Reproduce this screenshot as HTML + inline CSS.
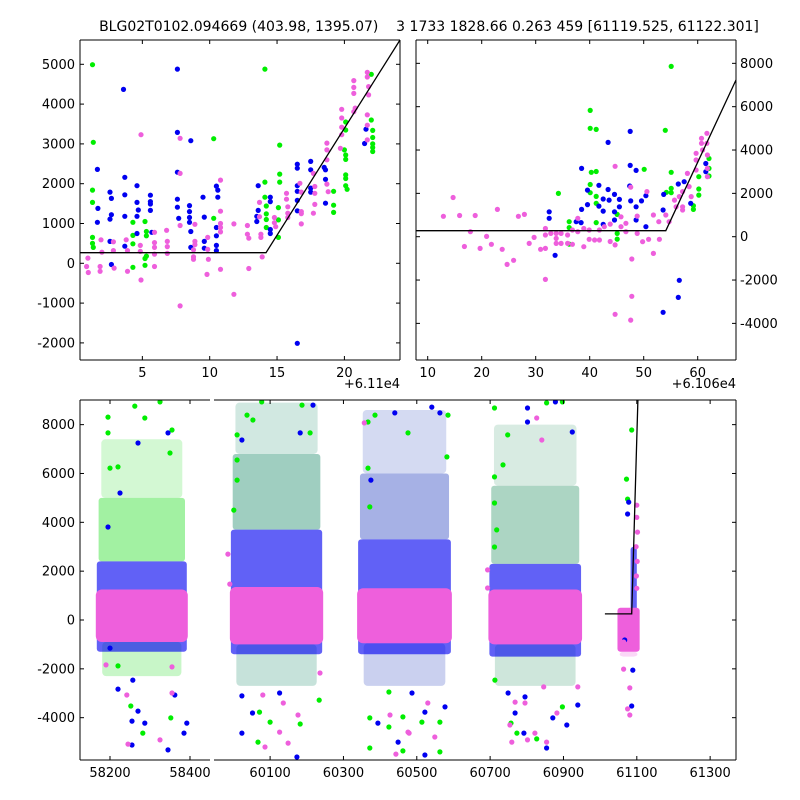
<!DOCTYPE html>
<html><head><meta charset="utf-8">
<style>
html,body{margin:0;padding:0;background:#fff;}
svg{display:block;font-family:"DejaVu Sans","Liberation Sans",sans-serif;}
text{fill:#000;}
</style></head>
<body>
<svg id="chart" width="800" height="800" viewBox="0 0 800 800" xmlns="http://www.w3.org/2000/svg">
<defs>
<clipPath id="cTL"><rect x="80" y="40" width="320" height="320"/></clipPath>
<clipPath id="cTR"><rect x="416" y="40" width="320" height="320"/></clipPath>
<clipPath id="cBL"><rect x="80" y="400" width="130" height="360"/></clipPath>
<clipPath id="cBR"><rect x="214" y="400" width="522" height="360"/></clipPath>
</defs>
<text x="429" y="31" text-anchor="middle" font-size="14" style="white-space:pre">BLG02T0102.094669 (403.98, 1395.07)    3 1733 1828.66 0.263 459 [61119.525, 61122.301]</text>
<text x="400" y="388" text-anchor="end" font-size="13">+6.11e4</text>
<text x="736" y="388" text-anchor="end" font-size="13">+6.106e4</text>
</svg>
<script>
const NS='http://www.w3.org/2000/svg';
const svg=document.getElementById('chart');
// ---------- top-left data ----------
const tlGreenX=[1.3,1.36,1.3,1.3,1.3,1.3,1.36,14.1,10.3,15.2,15.2,15.2,14.1,14.1,14.2,14.2,14.2,14.2,15.1,15.1,15.1,4.3,5.2,4.3,4.3,5.3,5.3,5.3,5.2,5.2,4.3,10.3,20.1,20.1,20.0,20.1,20.1,20.1,20.1,20.1,20.2,19.2,19.2,19.2,22.0,22.0,22.1,22.1,22.1,22.1,22.1];
const tlGreenY=[4990,3040,1840,1530,650,500,400,4880,3130,2970,2240,2040,2040,1660,1440,1240,1100,900,1400,1090,650,1030,1050,700,490,800,690,180,120,-50,-100,1130,3550,3350,2850,2720,2610,2220,2130,1950,1860,1810,1460,1280,4750,3600,3340,3160,3000,2910,2810];
const tlBlueX=[7.6,3.6,7.6,8.6,7.6,1.66,1.7,1.66,2.6,2.7,2.7,2.6,2.6,2.7,3.7,3.7,3.7,3.7,4.6,4.6,4.7,4.6,4.6,5.6,5.6,5.6,5.6,5.7,7.6,7.6,7.7,8.5,8.5,8.5,8.5,8.6,8.6,9.5,9.6,9.6,9.6,10.5,10.6,10.6,10.5,10.5,10.5,10.5,13.6,13.6,13.5,13.5,14.5,14.5,14.5,14.5,16.5,16.5,16.5,16.5,16.5,16.5,17.5,17.5,17.5,17.5,18.5,18.6,18.6,18.6,21.6,21.5,16.5];
const tlBlueY=[4880,4370,3290,3080,2290,2360,1380,1030,1790,1630,1220,1110,550,-30,2160,1720,1180,430,1950,1530,1340,1180,750,1710,1550,1490,1330,780,1610,1410,1130,1450,1300,1150,1030,800,400,1660,1160,550,380,1940,1840,1660,900,690,450,320,1950,1330,1180,1050,1660,1550,850,750,2490,2390,1950,1810,1580,1320,2560,2350,1890,1790,2410,2350,2110,1510,3370,3010,-2010];
const tlPinkX=[0.96,0.86,0.99,1.86,1.86,1.93,2.0,2.85,2.85,2.9,3.8,3.9,3.9,4.9,4.9,4.85,4.85,5.9,5.9,5.9,5.9,5.9,6.8,6.85,6.85,6.85,7.8,7.8,7.8,7.8,8.9,8.9,8.9,8.8,8.8,8.8,9.85,9.85,9.9,9.8,10.8,10.8,10.8,10.8,10.8,10.8,11.8,11.8,12.8,12.8,12.9,12.9,13.7,13.7,13.8,13.8,13.9,14.8,14.8,14.9,15.7,15.7,15.8,15.8,15.8,16.7,16.8,16.8,16.8,16.8,17.7,17.8,17.8,17.8,17.7,18.7,18.7,18.7,18.7,18.8,19.8,19.8,19.8,19.8,19.7,20.7,20.7,20.7,20.8,20.7,21.7,21.7,21.8,21.8,21.7,21.7,21.7];
const tlPinkY=[130,-80,-230,-80,-200,590,280,540,320,-120,590,320,-200,3230,-420,450,300,780,520,400,230,-80,830,550,420,250,3140,2260,950,-1070,980,550,470,340,160,100,650,350,100,-280,2090,1310,1000,900,790,-150,990,-780,950,730,630,-130,1530,1170,730,650,160,1150,1020,920,1760,1610,1420,1260,1150,2010,1790,1300,1250,990,2260,1930,1760,1480,1260,3020,2850,2600,1990,1800,3870,3650,3420,3230,2890,4590,4420,4270,3900,3810,4800,4680,4440,4230,3730,3470,3100];
const tlLineX=[0.37,14.18,24.13];
const tlLineY=[266,266,5610];
const tlXTicks=[5,10,15,20];
const tlYTicks=[-2000,-1000,0,1000,2000,3000,4000,5000];
// ---------- top-right data ----------
const trGreenX=[55.1,40.1,40.1,41.2,54.0,40.3,41.2,50.1,55.1,34.2,40.1,40.1,41.2,41.2,36.2,36.2,36.2,41.2,45.1,45.1,45.1,54.2,55.1,55.1,60.2,60.2,60.2,62.1,62.1,62.1,59.2,59.2];
const trGreenY=[7860,5830,5000,4950,4910,2970,3010,3110,2970,2000,2410,2030,1860,1540,690,420,-340,650,1030,150,-110,2050,2230,2030,2770,2200,1920,3610,3150,2800,1430,1260];
const trBlueX=[47.5,43.4,38.5,47.5,48.6,39.6,41.7,43.4,44.6,47.4,42.5,43.6,45.5,47.6,49.6,50.4,32.5,32.5,38.5,39.6,41.7,42.5,44.6,45.5,48.6,37.5,38.4,42.5,44.6,48.6,50.4,33.6,53.7,53.6,56.4,57.5,58.7,61.5,61.5,56.6,56.4,53.6];
const trBlueY=[4860,4350,3150,3290,3060,2150,2370,2180,1950,2340,1740,1690,1720,1650,1650,1890,1150,850,1260,1480,1410,1180,1150,1380,1380,690,650,570,770,770,460,-860,1950,1230,2430,2540,1540,3380,3000,-2010,-2800,-3490];
const trPinkX=[12.9,14.7,15.9,17.9,16.8,18.8,19.7,20.9,21.8,22.9,23.8,24.7,25.9,26.8,27.9,28.8,29.7,30.9,31.8,31.8,31.8,31.8,32.8,33.8,33.8,33.8,34.7,34.7,35.9,35.9,36.8,36.8,37.8,37.8,38.9,38.9,39.9,39.9,40.9,41.8,41.8,42.7,43.8,43.8,44.7,44.7,44.7,45.8,45.8,46.7,46.7,47.6,47.8,47.6,47.8,48.8,48.8,49.8,50.6,50.9,51.8,51.8,52.8,52.9,54.1,54.7,55.7,56.6,57.2,57.2,58.1,58.4,58.8,59.7,59.7,59.7,60.7,60.7,60.9,61.7,61.7,61.8,61.8,61.8,57.2,56.0];
const trPinkY=[940,1810,980,230,-450,980,-540,15,-350,1260,-580,-1280,-1090,940,1030,-310,-30,-580,-1970,380,80,-540,150,150,-80,-310,150,-310,80,-310,310,-350,850,230,380,-460,310,-120,-150,310,-150,460,580,-220,3250,-380,-3580,920,460,620,230,2290,-2750,-3850,-1030,950,150,-230,2080,-120,1000,-770,690,-120,1000,690,1690,1850,2080,1380,2920,2310,1850,3850,3540,3080,4540,4310,4000,4770,4310,3770,3150,2770,1230,1380];
const trLineX=[7.83,54.1,67.1];
const trLineY=[277,277,7230];
const trXTicks=[10,20,30,40,50,60];
const trYTicks=[-4000,-2000,0,2000,4000,6000,8000];
// ---------- bottom data ----------
const seasonStart=[58167,59993,60340,60698,61050];
const seasonEnd=[58392,60242,60593,60948,61105];
const sparseHi=[7400,8900,8600,8000,0];
const midHi=[5000,6800,6000,5500,0];
const lowLo=[-2300,-2700,-2700,-2700,-1500];
const sparseColor=['#22dd22','#1a8a6a','#2a45c0','#3a9a70','#f060e0'];
const blueLo=[-1300,-1400,-1400,-1500,200];
const blueHi=[2400,3700,3300,2300,3000];
const pinkLo=[-900,-1000,-950,-1000,-1300];
const pinkHi=[1250,1350,1300,1250,500];
const bGreenX=[58195,58195,58262,58200,58220,58325,58287,58355,58350,58220,58282,58352,58252,60037,60010,60053,60209,60077,60187,60010,60010,60001,60067,60182,60100,60234,60071,60367,60386,60367,60372,60372,60372,60424,60462,60424,60462,60585,60476,60582,60563,60563,60514,60712,60854,60897,60748,60712,60735,60712,60718,60712,60757,60773,60827,60897,60713,61086,61072,61075];
const bGreenY=[8310,7660,8760,6220,6270,8930,8270,7780,6840,-1880,-4630,-4010,-3520,8390,7580,8190,7660,8930,8800,6550,5730,4500,-5000,-4260,-4180,-3280,-3770,8110,8390,6220,4630,-5240,-4010,-4380,-5360,-2950,-3970,8390,7660,6680,-4180,-5400,-4180,8680,8890,8930,7580,5860,6350,4790,3690,2990,-4220,-4630,-4870,-3560,-2460,7780,5770,4950];
const bBlueX=[58270,58345,58225,58195,58200,58220,58255,58255,58345,58392,58385,58270,58362,58287,58257,60217,60023,60182,60023,60023,60173,60052,60126,60440,60375,60394,60449,60487,60541,60563,60577,60522,60522,60802,60878,60924,60802,60768,60792,60854,60871,60909,60939,60749,60795,61078,61075,61089,61086,61067];
const bBlueY=[7250,7660,5200,3810,-1150,-2830,-4140,-5120,-5320,-4220,-4630,-3730,-3070,-4220,-2460,8800,7370,7660,-3110,-4630,-5610,-3810,-2990,8480,5730,-4220,-5000,-2990,8720,8480,-3560,-5530,-3770,8680,8930,7700,8110,-3810,-4630,-5240,-4010,-4300,-3480,-2990,-3150,4830,4340,-2050,-3520,-820];
const bPinkX=[58245,58242,58190,58355,58325,58355,59985,59990,60086,60149,60176,60136,60236,60080,60126,60357,60443,60427,60476,60549,60479,60530,60827,60841,60693,60693,60759,60802,60854,60882,60768,60846,60939,60754,60822,60795,61081,61075,61081,61064,61081,61064,61100,61100,61102,61098,61101,61099,61100];
const bPinkY=[-5080,-3070,-1840,-1920,-4910,-2990,2700,1470,-5200,-5040,-3890,-3400,-2170,-3070,-4590,8070,-5490,-3890,-4590,-4790,-4630,-3400,8270,7370,2050,1310,-5000,-4910,-5000,-3810,-3360,-2740,-2740,-4300,-4630,-3400,-2780,-3640,-3890,-2010,-1110,-900,4700,4200,3600,3000,2400,1800,1300];
const bLineX=[61013,61086,61103];
const bLineY=[250,250,9010];
const blXTicks=[58200,58400];
const brXTicks=[60100,60300,60500,60700,60900,61100,61300];
const bYTicks=[-4000,-2000,0,2000,4000,6000,8000];

// ---------- scales ----------
const tlX=x=>75+x*13.47, tlY=y=>263.3-y*0.0398;
const trX=x=>427.7+(x-10)*5.4, trY=y=>236.7-y*0.02167;
const bY=y=>620-y*0.02442;
const blX=x=>80+(x-58125)*0.4, brX=x=>214+(x-59947)*0.3667;

function mk(tag,attrs,parent){const e=document.createElementNS(NS,tag);for(const k in attrs)e.setAttribute(k,attrs[k]);(parent||svg).appendChild(e);return e;}
function group(clip,name){const g=mk('g',{'clip-path':'url(#'+clip+')'});


return g;}
function dots(g,xs,ys,sx,sy,color,name){for(let i=0;i<xs.length;i++){const c=mk('circle',{cx:sx(xs[i]).toFixed(1),cy:sy(ys[i]).toFixed(1),r:2.6,fill:color},g);


}}
function line(g,xs,ys,sx,sy,name){const p=mk('polyline',{points:xs.map((x,i)=>sx(x).toFixed(1)+','+sy(ys[i]).toFixed(1)).join(' '),fill:'none',stroke:'#000','stroke-width':1.3},g);


}
const G='#00ee00',B='#0000f0',P='#ee5fdc';

// top-left
const gTL=group('cTL','top-left-plot-area');
dots(gTL,tlGreenX,tlGreenY,tlX,tlY,G,'green-point');
dots(gTL,tlBlueX,tlBlueY,tlX,tlY,B,'blue-point');
dots(gTL,tlPinkX,tlPinkY,tlX,tlY,P,'pink-point');
line(gTL,tlLineX,tlLineY,tlX,tlY,'model-line');
// top-right
const gTR=group('cTR','top-right-plot-area');
dots(gTR,trGreenX,trGreenY,trX,trY,G,'green-point');
dots(gTR,trBlueX,trBlueY,trX,trY,B,'blue-point');
dots(gTR,trPinkX,trPinkY,trX,trY,P,'pink-point');
line(gTR,trLineX,trLineY,trX,trY,'model-line');
// bottom
function band(g,x0,x1,hi,lo,fill,op,name,rx){
  if(hi<=lo)return;
  const r=mk('rect',{x:x0,y:bY(hi),width:x1-x0,height:bY(lo)-bY(hi),fill:fill,opacity:op,rx:rx||0},g);
  
  
}
function bottom(g,sx){
 for(let i=0;i<seasonStart.length;i++){
  const x0=sx(seasonStart[i]),x1=sx(seasonEnd[i]);
  const w=x1-x0;
  band(g,x0+w*0.05,x1-w*0.05,sparseHi[i],midHi[i],sparseColor[i],0.2,'sparse-cloud',4);
  band(g,x0+w*0.02,x1-w*0.02,midHi[i],blueHi[i],sparseColor[i],0.42,'mid-cloud',3);
  band(g,x0+w*0.06,x1-w*0.06,pinkLo[i],lowLo[i],sparseColor[i],0.25,'low-cloud',4);
  const bx0=i===4?sx(61083):x0, bx1=i===4?sx(61100):x1;
  band(g,bx0,bx1,blueHi[i],blueLo[i],B,0.62,'blue-dense-band',3);
  band(g,x0-1,x1+1,pinkHi[i],pinkLo[i],P,1,'pink-dense-core',i===4?3:6);
 }
 dots(g,bGreenX,bGreenY,sx,bY,G,'green-point');
 dots(g,bBlueX,bBlueY,sx,bY,B,'blue-point');
 dots(g,bPinkX,bPinkY,sx,bY,P,'pink-point');
 line(g,bLineX,bLineY,sx,bY,'model-line');
}
bottom(group('cBL','bottom-left-plot-area'),blX);
bottom(group('cBR','bottom-right-plot-area'),brX);

// ---------- axes ----------
function frame(x,y,w,h,name,sides){
 const g=mk('g',{});
 
 
 const s=sides||'tblr';
 if(s.includes('t'))mk('line',{x1:x,y1:y,x2:x+w,y2:y,stroke:'#000','stroke-width':1},g);
 if(s.includes('b'))mk('line',{x1:x,y1:y+h,x2:x+w,y2:y+h,stroke:'#000','stroke-width':1},g);
 if(s.includes('l'))mk('line',{x1:x,y1:y,x2:x,y2:y+h,stroke:'#000','stroke-width':1},g);
 if(s.includes('r'))mk('line',{x1:x+w,y1:y,x2:x+w,y2:y+h,stroke:'#000','stroke-width':1},g);
 return g;
}
function xticks(g,ticks,sx,top,bot,labels){ticks.forEach(t=>{const px=sx(t);
 mk('line',{x1:px,y1:bot,x2:px,y2:bot-4,stroke:'#000'},g);mk('line',{x1:px,y1:top,x2:px,y2:top+4,stroke:'#000'},g);
 if(labels){const tx=mk('text',{x:px,y:bot+17,'text-anchor':'middle','font-size':13},g);tx.textContent=String(t);
 
 }});}
function yticks(g,ticks,sy,left,right,labelSide){ticks.forEach(t=>{const py=sy(t);
 if(left!==null)mk('line',{x1:left,y1:py,x2:left+4,y2:py,stroke:'#000'},g);
 if(right!==null)mk('line',{x1:right,y1:py,x2:right-4,y2:py,stroke:'#000'},g);
 if(labelSide){const tx=mk('text',{x:labelSide==='l'?left-5:right+4,y:py+4.5,'text-anchor':labelSide==='l'?'end':'start','font-size':13},g);tx.textContent=String(t);
 
 }});}
let a=frame(80,40,320,320,'top-left-axes');
xticks(a,tlXTicks,tlX,40,360,true);yticks(a,tlYTicks,tlY,80,400,'l');
a=frame(416,40,320,320,'top-right-axes');
xticks(a,trXTicks,trX,40,360,true);yticks(a,trYTicks,trY,416,736,'r');
a=frame(80,400,130,360,'bottom-left-axes','tbl');
xticks(a,blXTicks,blX,400,760,true);yticks(a,bYTicks,bY,80,null,'l');
a=frame(214,400,522,360,'bottom-right-axes','tbr');
xticks(a,brXTicks,brX,400,760,true);yticks(a,bYTicks,bY,null,736,null);
</script>
</body></html>
